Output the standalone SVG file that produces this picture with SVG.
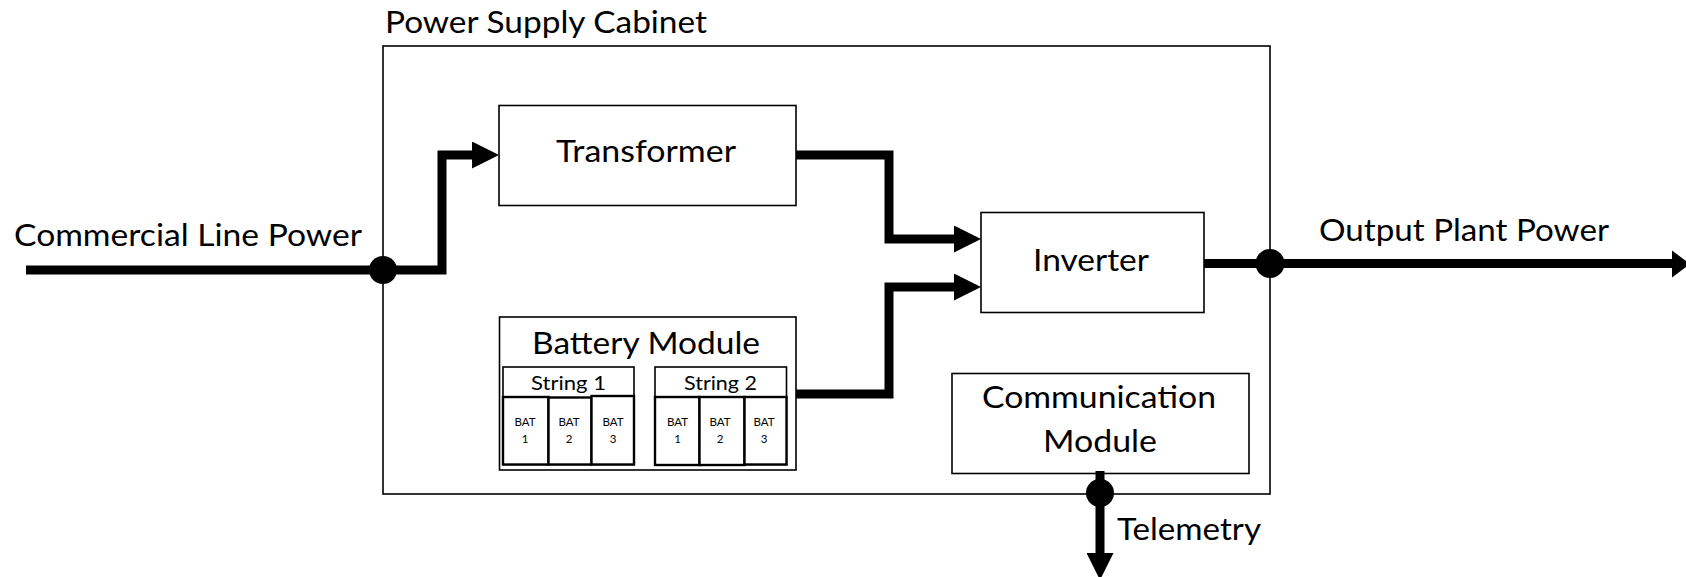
<svg xmlns="http://www.w3.org/2000/svg" width="1686" height="577" viewBox="0 0 1686 577">
  <style>
    .box { fill: #ffffff; stroke: #000000; stroke-width: 1.6; }
    .cell { fill: #ffffff; stroke: #000000; stroke-width: 2.4; }
    .wire { fill: none; stroke: #000000; stroke-width: 9; stroke-linejoin: miter; stroke-linecap: butt; }
    .dot { fill: #000000; }
    .lbl { font-family: "Lato", "Liberation Sans", sans-serif; font-size: 31px; fill: #000000; }
    .sm { font-family: "Lato", "Liberation Sans", sans-serif; font-size: 20px; fill: #000000; }
    .xs { font-family: "Lato", "Liberation Sans", sans-serif; font-size: 11.5px; fill: #000000; text-anchor: middle; }
  </style>
  <defs>
    <marker id="head" markerUnits="userSpaceOnUse" viewBox="0 0 27 27" markerWidth="27" markerHeight="27" refX="0" refY="13.5" orient="auto">
      <path d="M0,0 L27,13.5 L0,27 Z" fill="#000000"/>
    </marker>
  </defs>

  <rect width="1686" height="577" fill="#ffffff"/>

  <!-- cabinet outline -->
  <g id="cabinet">
    <rect class="box" x="383" y="46" width="887" height="448" fill="none"/>
    <text class="lbl" x="385" y="33" textLength="322" lengthAdjust="spacingAndGlyphs">Power Supply Cabinet</text>
  </g>

  <g id="transformer">
    <rect class="box" x="499" y="105.5" width="297" height="100"/>
    <text class="lbl" x="556" y="162" textLength="180" lengthAdjust="spacingAndGlyphs">Transformer</text>
  </g>

  <g id="inverter">
    <rect class="box" x="981" y="212.5" width="223" height="100"/>
    <text class="lbl" x="1033" y="271" textLength="116" lengthAdjust="spacingAndGlyphs">Inverter</text>
  </g>

  <g id="battery-module">
    <rect class="box" x="499.5" y="317" width="296.5" height="153"/>
    <text class="lbl" x="532" y="353.5" textLength="228" lengthAdjust="spacingAndGlyphs">Battery Module</text>

    <g id="string-1">
      <rect class="box" x="503" y="367" width="131" height="97.5" stroke-width="2"/>
      <text class="sm" x="531" y="389.5" textLength="75" lengthAdjust="spacingAndGlyphs">String 1</text>
      <rect class="cell" x="503" y="397" width="45.5" height="67.5"/>
      <rect class="cell" x="548.5" y="397.5" width="43" height="67"/>
      <rect class="cell" x="591.5" y="396" width="42.5" height="68.5"/>
      <text class="xs" x="525" y="426">BAT</text><text class="xs" x="525" y="443">1</text>
      <text class="xs" x="569" y="426">BAT</text><text class="xs" x="569" y="443">2</text>
      <text class="xs" x="613" y="426">BAT</text><text class="xs" x="613" y="443">3</text>
    </g>

    <g id="string-2">
      <rect class="box" x="655" y="367" width="131.5" height="97.5" stroke-width="2"/>
      <text class="sm" x="684" y="389.5" textLength="73" lengthAdjust="spacingAndGlyphs">String 2</text>
      <rect class="cell" x="655" y="397" width="44.5" height="68"/>
      <rect class="cell" x="699.5" y="397" width="45" height="68"/>
      <rect class="cell" x="744.5" y="397" width="42" height="67.5"/>
      <text class="xs" x="677.5" y="426">BAT</text><text class="xs" x="677.5" y="443">1</text>
      <text class="xs" x="720" y="426">BAT</text><text class="xs" x="720" y="443">2</text>
      <text class="xs" x="764" y="426">BAT</text><text class="xs" x="764" y="443">3</text>
    </g>
  </g>

  <g id="communication-module">
    <rect class="box" x="952" y="373.5" width="297" height="100"/>
    <text class="lbl" x="982" y="408" textLength="234" lengthAdjust="spacingAndGlyphs">Communication</text>
    <text class="lbl" x="1043" y="452" textLength="114" lengthAdjust="spacingAndGlyphs">Module</text>
  </g>

  <!-- power and signal connectors -->
  <g id="connectors">
    <path class="wire" d="M26,270 H442 V155 H472" marker-end="url(#head)"/>
    <path class="wire" d="M796,155 H889 V239 H954" marker-end="url(#head)"/>
    <path class="wire" d="M796,394 H889 V287 H954" marker-end="url(#head)"/>
    <path class="wire" d="M1204,263.5 H1673"/>
    <polygon points="1672,250.5 1690,264 1672,277.5" fill="#000000"/>
    <path class="wire" d="M1100,471 V553" marker-end="url(#head)"/>
    <circle class="dot" cx="383" cy="270" r="14"/>
    <circle class="dot" cx="1270" cy="263.5" r="14.5"/>
    <circle class="dot" cx="1100" cy="493" r="14"/>
  </g>

  <g id="labels">
    <text class="lbl" x="14" y="246" textLength="348" lengthAdjust="spacingAndGlyphs">Commercial Line Power</text>
    <text class="lbl" x="1319" y="241" textLength="290" lengthAdjust="spacingAndGlyphs">Output Plant Power</text>
    <text class="lbl" x="1117" y="540" textLength="144" lengthAdjust="spacingAndGlyphs">Telemetry</text>
  </g>
</svg>
